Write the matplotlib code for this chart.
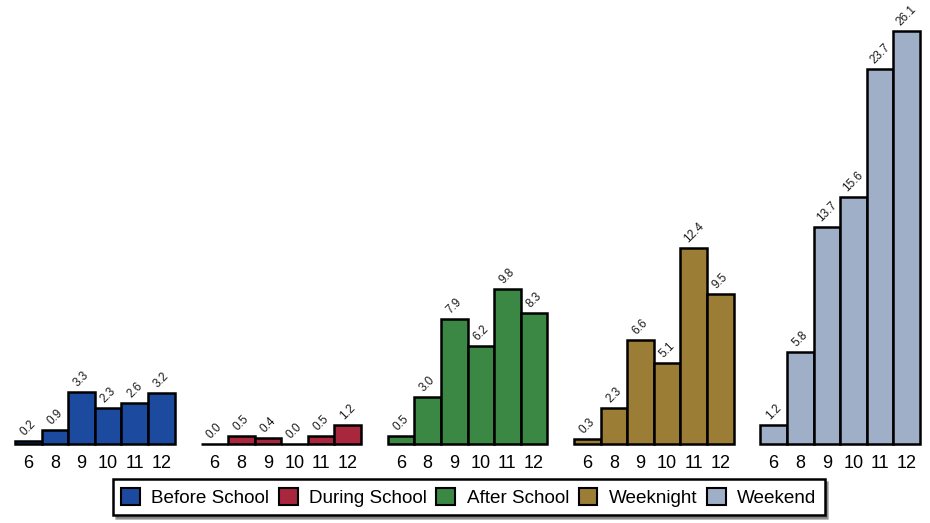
import matplotlib.pyplot as plt
import numpy as np
from matplotlib.patches import Patch

plt.rcParams['font.family'] = ['Liberation Sans', 'DejaVu Sans']

grades = ['6', '8', '9', '10', '11', '12']
periods = ['Before School', 'During School', 'After School', 'Weeknight', 'Weekend']
before_school = [0.2, 0.9, 3.3, 2.3, 2.6, 3.2]
during_school = [0.0, 0.5, 0.4, 0.0, 0.5, 1.2]
after_school = [0.5, 3.0, 7.9, 6.2, 9.8, 8.3]
weeknight = [0.3, 2.3, 6.6, 5.1, 12.4, 9.5]
weekend = [1.2, 5.8, 13.7, 15.6, 23.7, 26.1]
series = [before_school, during_school, after_school, weeknight, weekend]
colors = ['#1B4A9E', '#A8273D', '#3A8843', '#9C7D36', '#A0AFC8']

fig = plt.figure(figsize=(9.3, 5.23), dpi=100)
ax = fig.add_axes([15 / 930, 1 - 444 / 523, 905 / 930, 413 / 523])

tick_pos = []
tick_lab = []
for g, (vals, col) in enumerate(zip(series, colors)):
    x = g * 7 + np.arange(len(grades))
    ax.bar(x, vals, width=1.0, color=col, edgecolor='black', linewidth=1.8, clip_on=False)
    for xi, v in zip(x, vals):
        ax.annotate(f'{v:.1f}', (xi, v), xytext=(0, 2), textcoords='offset points',
                    rotation=45, ha='center', va='bottom', fontsize=8.5, color='#1a1a1a',
                    annotation_clip=False)
    tick_pos.extend(x)
    tick_lab.extend(grades)

ax.set_xlim(-0.5, 33.5)
ax.set_ylim(0, 26.1)
ax.set_xticks(tick_pos)
ax.set_xticklabels(tick_lab, fontsize=13)
ax.tick_params(axis='x', length=0, pad=8)
ax.set_yticks([])
for s in ax.spines.values():
    s.set_visible(False)

handles = [Patch(facecolor=c, edgecolor='black', linewidth=1.5) for c in colors]
leg = fig.legend(handles, periods, loc='center', bbox_to_anchor=(0.504, 0.049), ncol=5,
                 fontsize=13.6, frameon=True, fancybox=False, shadow=True, edgecolor='black',
                 handlelength=1.0, handleheight=1.0, handletextpad=0.6, columnspacing=0.5,
                 borderpad=0.45)
leg.get_frame().set_linewidth(1.8)

fig.savefig('out.png', dpi=100)
